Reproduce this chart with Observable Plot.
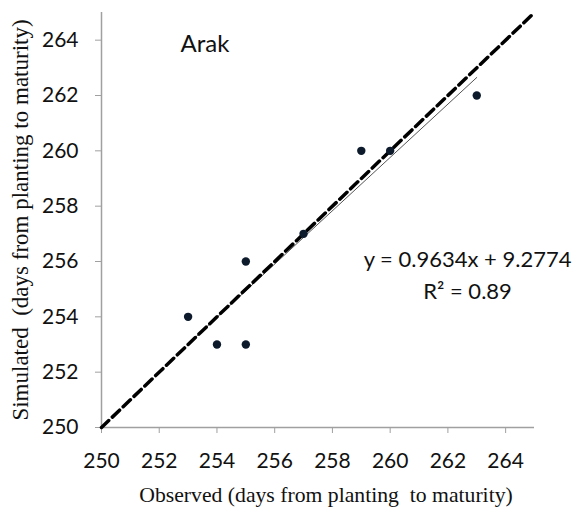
<!DOCTYPE html>
<html>
<head>
<meta charset="utf-8">
<script src="https://cdn.jsdelivr.net/npm/d3@7"></script>
<script src="https://cdn.jsdelivr.net/npm/@observablehq/plot@0.6"></script>
<style>
  html, body { margin: 0; padding: 0; background: #fff; }
  #chart svg { display: block; }
</style>
</head>
<body>
<div id="chart"></div>
<script>
const observed = [253, 254, 255, 255, 257, 259, 260, 263];
const simulated = [254, 253, 253, 256, 257, 260, 260, 262];
const slope = 0.9634;
const intercept = 9.2774;
const xTicks = [250, 252, 254, 256, 258, 260, 262, 264];
const yTicks = [250, 252, 254, 256, 258, 260, 262, 264];
const domain = [250, 265];
const siteLabel = "Arak";
const eqLabel = "y = 0.9634x + 9.2774";
const r2Label = "R² = 0.89";
const xTitle = "Observed (days from planting  to maturity)";
const yTitle = "Simulated  (days from planting to maturity)";

const points = observed.map((x, i) => ({x, y: simulated[i]}));
const xmin = d3.min(observed), xmax = d3.max(observed);
const fit = [xmin, xmax].map(x => ({x, y: slope * x + intercept}));
const oneToOne = domain.map(v => ({x: v, y: v}));

const tickFont = "Lato, 'Open Sans', sans-serif";
const serif = "'Liberation Serif', 'Times New Roman', serif";
const axisGray = "#a0a0a0";

const plot = Plot.plot({
  width: 575,
  height: 510,
  marginLeft: 101,
  marginRight: 41,
  marginTop: 12,
  marginBottom: 83,
  style: {background: "#fff", fontFamily: tickFont},
  x: {domain, ticks: xTicks},
  y: {domain, ticks: yTicks},
  marks: [
    Plot.axisX({ticks: xTicks, tickSize: 6, stroke: axisGray, tickPadding: 20,
      fontSize: 21, fill: "#111", label: null, fontFamily: tickFont}),
    Plot.axisY({ticks: yTicks, tickSize: 6, stroke: axisGray, tickPadding: 17,
      fontSize: 21, fill: "#111", label: null, fontFamily: tickFont}),
    Plot.ruleY([250], {stroke: axisGray, strokeWidth: 1.5}),
    Plot.ruleX([250], {stroke: axisGray, strokeWidth: 1.5}),
    Plot.line(fit, {x: "x", y: "y", stroke: "#555", strokeWidth: 1}),
    Plot.line(oneToOne, {x: "x", y: "y", stroke: "#000", strokeWidth: 3.5, strokeDasharray: "10,5"}),
    Plot.dot(points, {x: "x", y: "y", r: 4.2, fill: "#0c1a2c", stroke: "none"}),
    Plot.text([siteLabel], {frameAnchor: "top-left", dx: 79, dy: 22, text: d => d,
      fontSize: 24, fill: "#111", textAnchor: "start", fontFamily: tickFont}),
    Plot.text([eqLabel], {x: 262.68, y: 256.04, text: d => d, fontSize: 22,
      fill: "#111", fontFamily: tickFont}),
    Plot.text([r2Label], {x: 262.68, y: 254.9, text: d => d, fontSize: 22,
      fill: "#111", fontFamily: tickFont}),
    Plot.text([xTitle], {frameAnchor: "bottom", dx: 8, dy: 74, text: d => d, fontSize: 21.7,
      fill: "#111", fontFamily: serif}),
    Plot.text([yTitle], {frameAnchor: "left", dx: -81, rotate: -90, textAnchor: "middle",
      text: d => d, fontSize: 23, fill: "#111", fontFamily: serif})
  ]
});
document.getElementById("chart").appendChild(plot);
</script>
</body>
</html>
